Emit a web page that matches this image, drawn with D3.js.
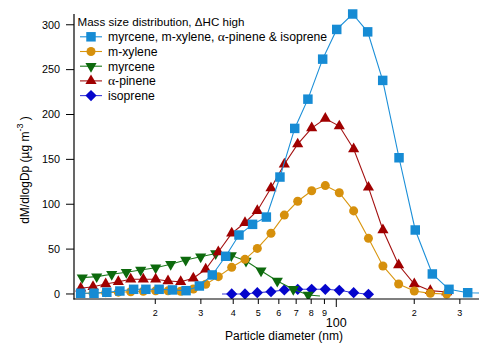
<!DOCTYPE html>
<html>
<head>
<meta charset="utf-8">
<script src="https://cdn.jsdelivr.net/npm/d3@7"></script>
<style>
  body { margin: 0; background: #fff; }
  svg { display: block; font-family: "Liberation Sans", Arial, sans-serif; }
</style>
</head>
<body>
<script>
// particle diameters (nm) and mass (ug m-3)
var sumD = [10.3, 11.6, 13.0, 14.6, 16.5, 18.4, 20.7, 23.3, 26.3, 29.6, 33.2, 37.4, 42.1, 47.5,
            53.7, 60.6, 69.1, 77.7, 88.6, 100.4, 115.7, 132.2, 151.1, 174.7, 201.8, 234.9, 272.4, 321.7];
var sumV = [0.8, 0.8, 1.9, 3.3, 5.2, 5.2, 5.2, 4.5, 3.7, 8.9, 21.2, 42, 65.7, 77.6,
            85.7, 130.3, 184.5, 217.1, 261.7, 294.8, 312, 292.1, 238, 151.8, 71.3, 22.3, 5.2, 1.4];
var sumTailD = [380], sumTailV = [1.0];

var pinD = [10.31, 11.5, 12.87, 14.4, 16.08, 17.98, 20.07, 22.4, 25.07, 28.05, 31.32, 35.03, 39.46, 44.41,
            49.55, 55.96, 63.0, 70.96, 80.35, 90.7, 102.7, 116.7, 133.1, 151.4, 174.1, 200.1, 230.7, 266.9];
var pinV = [6.3, 8.1, 11.1, 13.7, 16.4, 16.4, 16.4, 14.5, 13.7, 17.5, 27.5, 46.8, 67.6, 79.4,
            92.8, 118, 144.5, 167, 184.9, 195.5, 187.1, 161.5, 118.8, 71.3, 32.3, 11.1, 3.7, 2.2];

var xylD = pinD;
var xylV = [0.5, 1, 1.5, 2, 2.5, 3, 3.5, 3.5, 3, 5.5, 10.8, 19.3, 29.7, 38.6,
            50.8, 67.6, 87.9, 103.3, 115, 120.8, 112.8, 92.6, 62, 31.2, 11.1, 3.3, 0.7, 0];

var myrD = [10.45, 11.88, 13.58, 15.46, 17.57, 20.07, 22.94, 26.21, 29.95, 34.22, 39.32, 44.81, 51.21, 59.19, 68.23, 77.95];
var myrV = [18.2, 19.3, 21.9, 24.2, 26.7, 29.3, 33.1, 37.9, 41.4, 45.1, 42.9, 36.7, 25.9, 14.5, 5.2, -1.1];
var myrTailD = [86.5], myrTailV = [-2.2];

var isoD = [39.46, 44.41, 49.55, 55.96, 63.0, 70.96, 80.35, 90.7, 102.7, 116.7, 133.1];
var isoV = [0, 0, 1.4, 2.6, 4.5, 5.2, 5.2, 5.2, 4.1, 1.4, -0.3];
var isoLeadD = [36.2], isoLeadV = [0];

var yTicks = [0, 50, 100, 150, 200, 250, 300];
var xMinorTicks = [20, 30, 40, 50, 60, 70, 80, 90, 200, 300];
var xMajorTicks = [100];

var legendTitle = 'Mass size distribution, \u0394HC high';

var W = 479, H = 344;

var x = d3.scaleLog().domain([9.71, 355.7]).range([74, 479]);
var y = d3.scaleLinear().domain([-5.6, 312]).range([299, 14]);

var svg = d3.select('body').append('svg').attr('width', W).attr('height', H);

svg.append('defs').append('clipPath').attr('id', 'plotClip')
  .append('rect').attr('x', 0).attr('y', 0).attr('width', 479).attr('height', 299);

var diamond = function(s){
  return 'M0,' + (-s) + 'L' + s + ',0L0,' + s + 'L' + (-s) + ',0Z';
};

var markers = {
  square: d3.symbol(d3.symbolSquare, 90)(),
  circle: d3.symbol(d3.symbolCircle, 64)(),
  triUp: d3.symbol(d3.symbolTriangle, 54)(),
  diamond: diamond(5.6)
};

// drawn bottom first
var series = [
  {name: 'isoprene', d: isoD, v: isoV, preD: isoLeadD, preV: isoLeadV, postD: [], postV: [],
   line: '#3a3ad8', fill: '#0505cc', mark: 'diamond', rot: 0},
  {name: 'myrcene', d: myrD, v: myrV, preD: [], preV: [], postD: myrTailD, postV: myrTailV,
   line: '#1c7a1c', fill: '#0d6a0d', mark: 'triUp', rot: 180},
  {name: '\u03b1-pinene', d: pinD, v: pinV, preD: [], preV: [], postD: [], postV: [],
   line: '#a31010', fill: '#a00000', mark: 'triUp', rot: 0},
  {name: 'm-xylene', d: xylD, v: xylV, preD: [], preV: [], postD: [], postV: [],
   line: '#d9960f', fill: '#d6900c', mark: 'circle', rot: 0},
  {name: 'myrcene, m-xylene, \u03b1-pinene & isoprene', d: sumD, v: sumV, preD: [], preV: [], postD: sumTailD, postV: sumTailV,
   line: '#1b8fd8', fill: '#168bd4', mark: 'square', rot: 0}
];

var line = d3.line().x(function(p){ return x(p[0]); }).y(function(p){ return y(p[1]); });

var plot = svg.append('g').attr('clip-path', 'url(#plotClip)');

series.forEach(function(s){
  var pts = d3.zip(s.d, s.v);
  var all = d3.zip(s.preD, s.preV).concat(pts, d3.zip(s.postD, s.postV));
  plot.append('path').attr('d', line(all))
    .attr('fill', 'none').attr('stroke', s.line).attr('stroke-width', 1.1);
  plot.selectAll(null).data(pts).enter().append('path')
    .attr('d', markers[s.mark])
    .attr('transform', function(p){ return 'translate(' + x(p[0]) + ',' + y(p[1]) + ') rotate(' + s.rot + ')'; })
    .attr('fill', s.fill);
});

// axes
var ax = svg.append('g').attr('stroke', '#000').attr('stroke-width', 1.2);
ax.append('line').attr('x1', 74).attr('x2', 74).attr('y1', 14).attr('y2', 299.6);
ax.append('line').attr('x1', 73.4).attr('x2', 479).attr('y1', 299).attr('y2', 299);

var yt = svg.append('g');
yTicks.forEach(function(t){
  yt.append('line').attr('x1', 66).attr('x2', 74).attr('y1', y(t)).attr('y2', y(t))
    .attr('stroke', '#000').attr('stroke-width', 1);
  yt.append('text').attr('x', 60).attr('y', y(t) + 3.8).attr('text-anchor', 'end')
    .attr('font-size', 10.8).text(t);
});

var xt = svg.append('g');
xMinorTicks.forEach(function(t){
  xt.append('line').attr('x1', x(t)).attr('x2', x(t)).attr('y1', 299).attr('y2', 304)
    .attr('stroke', '#000').attr('stroke-width', 1);
  xt.append('text').attr('x', x(t)).attr('y', 315.5).attr('text-anchor', 'middle')
    .attr('font-size', 9).text(String(t).charAt(0));
});
xMajorTicks.forEach(function(t){
  xt.append('line').attr('x1', x(t)).attr('x2', x(t)).attr('y1', 299).attr('y2', 307)
    .attr('stroke', '#000').attr('stroke-width', 1);
  xt.append('text').attr('x', x(t)).attr('y', 326.5).attr('text-anchor', 'middle')
    .attr('font-size', 12.5).text(t);
});

svg.append('text').attr('x', 284).attr('y', 340).attr('text-anchor', 'middle')
  .attr('font-size', 12).text('Particle diameter (nm)');

var yl = svg.append('text').attr('transform', 'translate(29,170) rotate(-90)')
  .attr('text-anchor', 'middle').attr('font-size', 12);
yl.append('tspan').text('dM/dlogDp (\u00b5g m');
yl.append('tspan').attr('dy', -6).attr('font-size', 9).text('-3');
yl.append('tspan').attr('dy', 6).text(' )');

// legend
var lg = svg.append('g');
lg.append('text').attr('x', 77.5).attr('y', 26).attr('font-size', 11.6).text(legendTitle);

var legendOrder = [4, 3, 1, 2, 0];
legendOrder.forEach(function(k, i){
  var s = series[k], ly = 36.8 + i * 14.7;
  lg.append('line').attr('x1', 80).attr('x2', 102).attr('y1', ly).attr('y2', ly)
    .attr('stroke', s.line).attr('stroke-width', 1.1);
  lg.append('path').attr('d', markers[s.mark])
    .attr('transform', 'translate(91,' + ly + ') rotate(' + s.rot + ')').attr('fill', s.fill);
  var tx = lg.append('text').attr('x', 108).attr('y', ly + 4.3).attr('font-size', 12.2);
  s.name.split('\u03b1').forEach(function(part, j){
    if(j > 0){ tx.append('tspan').attr('font-family', '"Liberation Serif", serif').attr('font-size', 13.5).text('\u03b1'); }
    tx.append('tspan').text(part);
  });
});
</script>
</body>
</html>
